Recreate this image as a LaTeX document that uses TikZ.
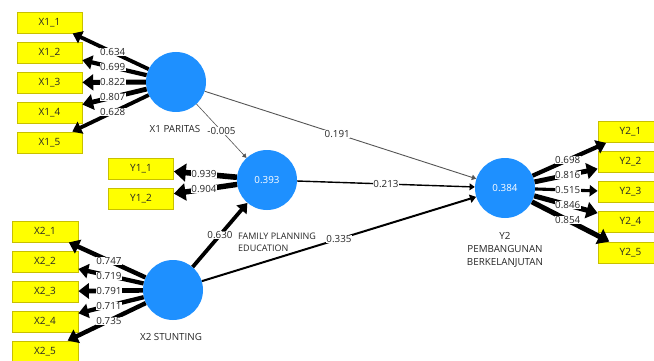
\documentclass[tikz,border=0pt]{standalone}
\usepackage{fontspec}
\setmainfont{Open Sans}
\usetikzlibrary{arrows.meta,calc}
\definecolor{lvblue}{HTML}{1E90FF}
\definecolor{indyellow}{HTML}{FFFF00}
\definecolor{boxedge}{HTML}{C8C000}
\definecolor{txt}{HTML}{262626}
\definecolor{thinline}{HTML}{555555}
\begin{document}
\begin{tikzpicture}[x=1pt,y=-1pt,
  ind/.style={draw=boxedge, line width=0.8pt, fill=indyellow, minimum width=65pt, minimum height=21pt, inner sep=0pt, font=\fontsize{10}{11}\selectfont, text=txt},
  lv/.style={circle, fill=lvblue, minimum size=60pt, inner sep=0pt, text=white, font=\fontsize{9.8}{11}\selectfont},
  lbl/.style={fill=white, inner sep=0.5pt, font=\fontsize{9.8}{10}\selectfont, text=txt},
  lvname/.style={font=\fontsize{9.8}{12}\selectfont, text=txt, align=center, inner sep=0pt},
  tip/.style={-{Triangle[length=3pt 1.6, width=3pt 2.6]}},
  ]
\useasboundingbox (0,0) rectangle (654,361);
\clip (0,0) rectangle (654,361);
\fill[white] (0,0) rectangle (654,361);

% latent variables
\node[lv] (X1) at (176,82) {};
\node[lv] (Y1) at (267,180) {0.393};
\node[lv] (X2) at (173,290) {};
\node[lv] (Y2) at (505,188) {0.384};

\node[lvname] (nX1) at (175,128.5) {X1 PARITAS};
\node[lvname] (nX2) at (171,337) {X2 STUNTING};
\node[lvname, align=left, anchor=west, font=\fontsize{9}{11.5}\selectfont] (nY1) at (238,242.5) {FAMILY PLANNING\\EDUCATION};
\node[lvname, font=\fontsize{9.8}{13.3}\selectfont] (nY2) at (505,250) {Y2\\PEMBANGUNAN\\BERKELANJUTAN};

% indicators
\foreach \i/\y in {1/22.5,2/52.5,3/82.5,4/112.5,5/142.5}
  \node[ind] (x1\i) at (49.5,\y) {X1\_\i};
\foreach \i/\y in {1/231.5,2/261.5,3/291.5,4/321.5,5/351.5}
  \node[ind, minimum width=66pt] (x2\i) at (45,\y) {X2\_\i};
\node[ind] (y11) at (141,168.5) {Y1\_1};
\node[ind] (y12) at (141,198.5) {Y1\_2};
\foreach \i/\y in {1/132,2/162,3/192,4/222,5/252.5}
  \node[ind] (y2\i) at (630.5,\y) {Y2\_\i};

% loadings
\foreach \t/\w in {x11/3.8, x12/4.2, x13/4.9, x14/4.8, x15/3.8}{
  \draw[tip, line width=\w pt] (X1) -- (\t);
}
\foreach \t/\w in {x21/4.5, x22/4.3, x23/4.7, x24/4.3, x25/4.4}{
  \draw[tip, line width=\w pt] (X2) -- (\t);
}
\foreach \t/\w in {y11/5.6, y12/5.4}{
  \draw[tip, line width=\w pt] (Y1) -- (\t);
}
\foreach \t/\w in {y21/4.2, y22/4.9, y23/3.1, y24/5.1, y25/5.1}{
  \draw[tip, line width=\w pt] (Y2) -- (\t);
}
\foreach \s/\t/\v in {X1/x11/0.634, X1/x12/0.699, X1/x13/0.822, X1/x14/0.807, X1/x15/0.628,
  X2/x21/0.747, X2/x22/0.719, X2/x23/0.791, X2/x24/0.711, X2/x25/0.735,
  Y1/y11/0.939, Y1/y12/0.904,
  Y2/y21/0.698, Y2/y22/0.816, Y2/y23/0.515, Y2/y24/0.846, Y2/y25/0.854}{
  \node[lbl] (l\t) at ($(\s)!0.5!(\t)$) {\v};
}

% structural paths
\draw[tip, line width=0.6pt, thinline] (X1) -- (Y1);
\draw[tip, line width=0.9pt, thinline] (X1) -- (Y2);
\draw[tip, line width=1.4pt] (Y1) -- (Y2);
\draw[tip, line width=3.8pt] (X2) -- (Y1);
\draw[tip, line width=2.0pt] (X2) -- (Y2);
\node[lbl] (pX1Y1) at ($(X1)!0.5!(Y1)$) {-0.005};
\node[lbl] (pX1Y2) at ($(X1)!0.49!(Y2)$) {0.191};
\node[lbl] (pY1Y2) at ($(Y1)!0.5!(Y2)$) {0.213};
\node[lbl] (pX2Y1) at ($(X2)!0.5!(Y1)$) {0.630};
\node[lbl] (pX2Y2) at ($(X2)!0.5!(Y2)$) {0.335};
\end{tikzpicture}
\end{document}
